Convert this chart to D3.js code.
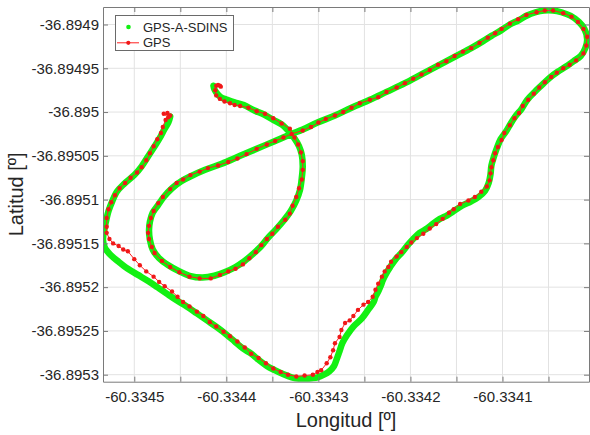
<!DOCTYPE html>
<html><head><meta charset="utf-8">
<script src="https://cdn.jsdelivr.net/npm/d3@7"></script>
<style>html,body{margin:0;padding:0;background:#fff;} svg{display:block;}</style>
</head><body>
<svg id="chart" width="590" height="435"></svg>
<script>
// ---------------- DATA ----------------
const xDomain = [-60.334534, -60.334006];
const yDomain = [-36.895308, -36.894880];
const xTickValues = [-60.3345, -60.33445, -60.3344, -60.33435, -60.3343, -60.33425, -60.3342, -60.33415, -60.3341, -60.33405];
const xTickLabels = ["-60.3345", "", "-60.3344", "", "-60.3343", "", "-60.3342", "", "-60.3341", ""];
const yTickValues = [-36.8949, -36.89495, -36.895, -36.89505, -36.8951, -36.89515, -36.8952, -36.89525, -36.8953];
const yTickLabels = ["-36.8949", "-36.89495", "-36.895", "-36.89505", "-36.8951", "-36.89515", "-36.8952", "-36.89525", "-36.8953"];
const seriesNames = ["GPS-A-SDINS", "GPS"];
const xLabel = "Longitud [º]";
const yLabel = "Latitud [º]";

// GPS (red, with markers)
const gpsLon = [
-60.334464,-60.334461,-60.334468,-60.334463,-60.334466,-60.334469,-60.334471,-60.334475,-60.334479,-60.334483,
-60.334487,-60.334492,-60.334497,-60.334504,-60.334510,-60.334516,-60.334521,-60.334525,-60.334528,-60.334530,
-60.334530,-60.334530,-60.334527,-60.334523,-60.334517,-60.334512,-60.334507,-60.334500,-60.334494,-60.334487,
-60.334479,-60.334473,-60.334467,-60.334459,-60.334453,-60.334447,-60.334440,-60.334432,-60.334425,-60.334418,
-60.334411,-60.334403,-60.334396,-60.334388,-60.334380,-60.334373,-60.334365,-60.334357,-60.334349,-60.334341,
-60.334333,-60.334324,-60.334315,-60.334306,-60.334301,-60.334297,-60.334291,-60.334287,-60.334284,-60.334282,
-60.334277,-60.334275,-60.334271,-60.334266,-60.334262,-60.334257,-60.334251,-60.334246,-60.334241,-60.334238,
-60.334235,-60.334231,-60.334228,-60.334224,-60.334221,-60.334215,-60.334210,-60.334204,-60.334199,-60.334193,-60.334186,
-60.334179,-60.334172,-60.334165,-60.334158,-60.334153,-60.334146,-60.334137,-60.334130,-60.334123,-60.334117,
-60.334114,-60.334113,-60.334112,-60.334110,-60.334108,-60.334105,-60.334101,-60.334098,-60.334092,-60.334087,
-60.334082,-60.334078,-60.334072,-60.334066,-60.334060,-60.334054,-60.334047,-60.334041,-60.334034,-60.334027,
-60.334020,-60.334012,-60.334009,-60.334008,-60.334012,-60.334018,-60.334025,-60.334034,-60.334045,-60.334054,
-60.334063,-60.334074,-60.334083,-60.334092,-60.334101,-60.334108,-60.334116,-60.334125,-60.334134,-60.334143,
-60.334152,-60.334161,-60.334170,-60.334179,-60.334188,-60.334197,-60.334206,-60.334215,-60.334226,-60.334235,
-60.334244,-60.334255,-60.334264,-60.334273,-60.334282,-60.334292,-60.334300,-60.334308,-60.334317,-60.334329,
-60.334338,-60.334347,-60.334356,-60.334367,-60.334378,-60.334388,-60.334398,-60.334409,-60.334420,-60.334429,
-60.334439,-60.334447,-60.334454,-60.334461,-60.334469,-60.334474,-60.334479,-60.334482,-60.334484,-60.334485,
-60.334484,-60.334481,-60.334478,-60.334470,-60.334461,-60.334451,-60.334440,-60.334429,-60.334417,-60.334407,
-60.334398,-60.334390,-60.334382,-60.334375,-60.334368,-60.334362,-60.334356,-60.334350,-60.334344,-60.334336,
-60.334331,-60.334328,-60.334324,-60.334321,-60.334318,-60.334317,-60.334317,-60.334319,-60.334322,-60.334326,
-60.334331,-60.334340,-60.334349,-60.334358,-60.334367,-60.334376,-60.334385,-60.334391,-60.334396,-60.334402,
-60.334407,-60.334411,-60.334412,-60.334411,-60.334407,-60.334409,-60.334406
];
const gpsLat = [
-36.895001,-36.895004,-36.895002,-36.895006,-36.895009,-36.895017,-36.895024,-36.895031,-36.895039,-36.895047,
-36.895055,-36.895063,-36.895069,-36.895075,-36.895081,-36.895087,-36.895095,-36.895103,-36.895111,-36.895121,
-36.895131,-36.895138,-36.895145,-36.895150,-36.895153,-36.895157,-36.895159,-36.895168,-36.895175,-36.895182,
-36.895188,-36.895194,-36.895199,-36.895205,-36.895211,-36.895217,-36.895222,-36.895228,-36.895233,-36.895240,
-36.895245,-36.895251,-36.895256,-36.895262,-36.895269,-36.895276,-36.895281,-36.895287,-36.895293,-36.895297,
-36.895300,-36.895302,-36.895301,-36.895300,-36.895297,-36.895295,-36.895287,-36.895280,-36.895272,-36.895264,
-36.895257,-36.895249,-36.895241,-36.895238,-36.895233,-36.895226,-36.895220,-36.895217,-36.895211,-36.895203,
-36.895196,-36.895188,-36.895182,-36.895177,-36.895171,-36.895165,-36.895160,-36.895154,-36.895149,-36.895144,-36.895139,
-36.895133,-36.895128,-36.895122,-36.895115,-36.895111,-36.895105,-36.895101,-36.895097,-36.895091,-36.895085,
-36.895078,-36.895070,-36.895063,-36.895055,-36.895047,-36.895040,-36.895032,-36.895024,-36.895015,-36.895007,
-36.895001,-36.894993,-36.894986,-36.894979,-36.894972,-36.894966,-36.894960,-36.894955,-36.894950,-36.894946,
-36.894941,-36.894933,-36.894924,-36.894914,-36.894905,-36.894897,-36.894891,-36.894887,-36.894884,-36.894884,
-36.894886,-36.894889,-36.894894,-36.894899,-36.894905,-36.894910,-36.894915,-36.894921,-36.894927,-36.894931,
-36.894936,-36.894942,-36.894946,-36.894952,-36.894957,-36.894962,-36.894967,-36.894972,-36.894977,-36.894983,
-36.894986,-36.894990,-36.894995,-36.895000,-36.895004,-36.895008,-36.895012,-36.895017,-36.895021,-36.895025,
-36.895029,-36.895033,-36.895037,-36.895042,-36.895048,-36.895053,-36.895057,-36.895061,-36.895064,-36.895068,
-36.895072,-36.895077,-36.895081,-36.895088,-36.895097,-36.895104,-36.895113,-36.895121,-36.895130,-36.895138,
-36.895145,-36.895154,-36.895161,-36.895170,-36.895177,-36.895183,-36.895188,-36.895190,-36.895190,-36.895186,
-36.895182,-36.895179,-36.895174,-36.895167,-36.895160,-36.895152,-36.895145,-36.895139,-36.895131,-36.895123,
-36.895116,-36.895107,-36.895097,-36.895087,-36.895077,-36.895066,-36.895056,-36.895046,-36.895037,-36.895029,
-36.895019,-36.895013,-36.895007,-36.895002,-36.894999,-36.894995,-36.894993,-36.894992,-36.894990,-36.894988,
-36.894985,-36.894981,-36.894975,-36.894970,-36.894970,-36.894969,-36.894971
];

// GPS-A-SDINS (green)
const insLon = [
-60.334461,-60.334463,-60.334468,-60.334472,-60.334476,-60.334484,-60.334492,-60.334500,-60.334511,-60.334519,
-60.334524,-60.334528,-60.334531,-60.334533,-60.334534,-60.334532,-60.334526,-60.334517,-60.334507,-60.334496,
-60.334485,-60.334475,-60.334464,-60.334454,-60.334443,-60.334432,-60.334421,-60.334410,-60.334400,-60.334391,
-60.334382,-60.334373,-60.334365,-60.334356,-60.334347,-60.334339,-60.334329,-60.334317,-60.334307,-60.334301,
-60.334294,-60.334288,-60.334283,-60.334280,-60.334277,-60.334274,-60.334269,-60.334262,-60.334253,-60.334246,
-60.334240,-60.334238,-60.334235,-60.334232,-60.334230,-60.334225,-60.334222,-60.334216,-60.334209,-60.334203,
-60.334197,-60.334190,-60.334182,-60.334175,-60.334168,-60.334160,-60.334154,-60.334144,-60.334134,-60.334126,
-60.334119,-60.334115,-60.334113,-60.334112,-60.334109,-60.334106,-60.334102,-60.334096,-60.334091,-60.334086,
-60.334079,-60.334073,-60.334065,-60.334057,-60.334049,-60.334040,-60.334031,-60.334023,-60.334015,-60.334010,
-60.334008,-60.334011,-60.334017,-60.334026,-60.334036,-60.334045,-60.334055,-60.334064,-60.334074,-60.334082,
-60.334092,-60.334102,-60.334112,-60.334121,-60.334134,-60.334152,-60.334170,-60.334188,-60.334206,-60.334226,
-60.334244,-60.334264,-60.334282,-60.334301,-60.334317,-60.334329,-60.334347,-60.334367,-60.334385,-60.334405,
-60.334423,-60.334438,-60.334449,-60.334459,-60.334468,-60.334474,-60.334480,-60.334483,-60.334484,-60.334483,
-60.334480,-60.334473,-60.334463,-60.334451,-60.334440,-60.334426,-60.334413,-60.334402,-60.334390,-60.334380,
-60.334371,-60.334362,-60.334355,-60.334346,-60.334337,-60.334330,-60.334324,-60.334320,-60.334318,-60.334317,
-60.334318,-60.334321,-60.334326,-60.334332,-60.334340,-60.334349,-60.334359,-60.334370,-60.334381,-60.334391,
-60.334399,-60.334406,-60.334410,-60.334413,-60.334414
];
const insLat = [
-36.895005,-36.895012,-36.895021,-36.895029,-36.895036,-36.895049,-36.895062,-36.895072,-36.895082,-36.895091,
-36.895102,-36.895113,-36.895126,-36.895137,-36.895146,-36.895155,-36.895163,-36.895171,-36.895179,-36.895186,
-36.895193,-36.895200,-36.895208,-36.895215,-36.895222,-36.895230,-36.895238,-36.895246,-36.895254,-36.895262,
-36.895270,-36.895276,-36.895283,-36.895290,-36.895295,-36.895299,-36.895303,-36.895305,-36.895304,-36.895303,
-36.895300,-36.895296,-36.895290,-36.895282,-36.895273,-36.895264,-36.895255,-36.895245,-36.895236,-36.895226,
-36.895217,-36.895211,-36.895205,-36.895198,-36.895192,-36.895182,-36.895177,-36.895168,-36.895160,-36.895152,
-36.895145,-36.895138,-36.895133,-36.895127,-36.895122,-36.895118,-36.895114,-36.895107,-36.895102,-36.895097,
-36.895090,-36.895081,-36.895071,-36.895061,-36.895050,-36.895041,-36.895031,-36.895022,-36.895013,-36.895005,
-36.894996,-36.894986,-36.894977,-36.894969,-36.894961,-36.894954,-36.894948,-36.894942,-36.894936,-36.894927,
-36.894917,-36.894905,-36.894897,-36.894890,-36.894886,-36.894884,-36.894884,-36.894886,-36.894890,-36.894895,
-36.894900,-36.894907,-36.894913,-36.894919,-36.894927,-36.894937,-36.894947,-36.894957,-36.894967,-36.894977,
-36.894986,-36.894995,-36.895004,-36.895012,-36.895020,-36.895025,-36.895033,-36.895042,-36.895050,-36.895059,
-36.895066,-36.895073,-36.895079,-36.895087,-36.895097,-36.895106,-36.895115,-36.895125,-36.895135,-36.895146,
-36.895157,-36.895167,-36.895175,-36.895182,-36.895187,-36.895189,-36.895187,-36.895183,-36.895177,-36.895170,
-36.895162,-36.895153,-36.895144,-36.895134,-36.895123,-36.895113,-36.895101,-36.895089,-36.895075,-36.895062,
-36.895049,-36.895039,-36.895030,-36.895022,-36.895014,-36.895009,-36.895003,-36.894998,-36.894992,-36.894989,
-36.894986,-36.894983,-36.894979,-36.894974,-36.894970
];

// ---------------- CHART ----------------
const svg = d3.select("#chart");
const plot = {left: 103, right: 589, top: 7, bottom: 381.7};
const FONT = "'Liberation Sans', Arial, Helvetica, sans-serif";
const axisColor = "#7a7a7a";
const textColor = "#262626";

svg.append("rect").attr("width", 590).attr("height", 435).attr("fill", "#fff");

const x = d3.scaleLinear().domain(xDomain).range([plot.left, plot.right]);
const y = d3.scaleLinear().domain(yDomain).range([plot.bottom, plot.top]);

// grid
const grid = svg.append("g").attr("stroke", "#e2e2e2").attr("stroke-width", 1);
grid.selectAll("line.gx").data(xTickValues).join("line").attr("class", "gx")
  .attr("x1", d => x(d)).attr("x2", d => x(d)).attr("y1", plot.top).attr("y2", plot.bottom);
grid.selectAll("line.gy").data(yTickValues).join("line").attr("class", "gy")
  .attr("y1", d => y(d)).attr("y2", d => y(d)).attr("x1", plot.left).attr("x2", plot.right);

// data (clipped)
svg.append("clipPath").attr("id", "clip").append("rect")
  .attr("x", plot.left).attr("y", plot.top)
  .attr("width", plot.right - plot.left).attr("height", plot.bottom - plot.top);
const dataG = svg.append("g").attr("clip-path", "url(#clip)");

const insPts = insLon.map((v, i) => [v, insLat[i]]);
const gpsPts = gpsLon.map((v, i) => [v, gpsLat[i]]);

const lineSmooth = d3.line().x(d => x(d[0])).y(d => y(d[1])).curve(d3.curveCatmullRom.alpha(0.5));
const lineStraight = d3.line().x(d => x(d[0])).y(d => y(d[1]));

dataG.append("path").attr("d", lineSmooth(insPts))
  .attr("fill", "none").attr("stroke", "#12f012").attr("stroke-width", 6.5)
  .attr("stroke-linejoin", "round").attr("stroke-linecap", "round");

dataG.append("path").attr("d", lineStraight(gpsPts))
  .attr("fill", "none").attr("stroke", "#ff2020").attr("stroke-width", 1);
dataG.selectAll("circle.gps").data(gpsPts).join("circle").attr("class", "gps")
  .attr("cx", d => x(d[0])).attr("cy", d => y(d[1])).attr("r", 2.2).attr("fill", "#f01818");

// axes
function styleAxis(g) {
  g.select("path.domain").attr("stroke", axisColor);
  g.selectAll(".tick line").attr("stroke", axisColor);
  g.selectAll(".tick text").attr("fill", textColor)
    .style("font-family", FONT).style("font-size", "15px");
}
svg.append("g").attr("transform", `translate(0,${plot.bottom})`)
  .call(d3.axisBottom(x).tickValues(xTickValues).tickFormat((d, i) => xTickLabels[i])
    .tickSizeInner(-5).tickSizeOuter(0).tickPadding(10)).call(styleAxis);
svg.append("g").attr("transform", `translate(0,${plot.top})`)
  .call(d3.axisTop(x).tickValues(xTickValues).tickFormat(() => "")
    .tickSizeInner(-5).tickSizeOuter(0)).call(styleAxis);
svg.append("g").attr("transform", `translate(${plot.left},0)`)
  .call(d3.axisLeft(y).tickValues(yTickValues).tickFormat((d, i) => yTickLabels[i])
    .tickSizeInner(-5).tickSizeOuter(0).tickPadding(4)).call(styleAxis);
svg.append("g").attr("transform", `translate(${plot.right},0)`)
  .call(d3.axisRight(y).tickValues(yTickValues).tickFormat(() => "")
    .tickSizeInner(-5).tickSizeOuter(0)).call(styleAxis);

// axis labels
svg.append("text").text(xLabel)
  .attr("x", (plot.left + plot.right) / 2).attr("y", 427).attr("text-anchor", "middle")
  .attr("fill", textColor).style("font-family", FONT).style("font-size", "20px");
svg.append("text").text(yLabel)
  .attr("transform", `translate(23,${(plot.top + plot.bottom) / 2}) rotate(-90)`)
  .attr("text-anchor", "middle")
  .attr("fill", textColor).style("font-family", FONT).style("font-size", "20px");

// legend
const lg = svg.append("g");
lg.append("rect").attr("x", 115.5).attr("y", 15.5).attr("width", 118).attr("height", 35)
  .attr("fill", "#fff").attr("stroke", "#6a6a6a").attr("stroke-width", 1);
lg.append("circle").attr("cx", 128.5).attr("cy", 27).attr("r", 2.3).attr("fill", "#12f012");
lg.append("text").text(seriesNames[0]).attr("x", 143).attr("y", 27).attr("dy", "0.35em")
  .attr("fill", textColor).style("font-family", FONT).style("font-size", "13px");
lg.append("line").attr("x1", 117).attr("x2", 139).attr("y1", 42.8).attr("y2", 42.8)
  .attr("stroke", "#ff2020").attr("stroke-width", 1);
lg.append("circle").attr("cx", 128.3).attr("cy", 42.8).attr("r", 2.1).attr("fill", "#f01818");
lg.append("text").text(seriesNames[1]).attr("x", 143).attr("y", 42.8).attr("dy", "0.35em")
  .attr("fill", textColor).style("font-family", FONT).style("font-size", "13px");
</script>
</body></html>
